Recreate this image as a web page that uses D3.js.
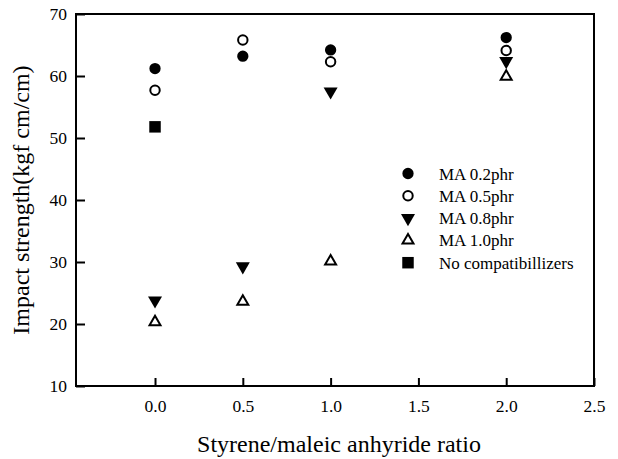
<!DOCTYPE html>
<html>
<head>
<meta charset="utf-8">
<script src="https://cdn.jsdelivr.net/npm/d3@7"></script>
<style>
  body { margin: 0; background: #fff; }
  text { font-family: "Liberation Serif", "Times New Roman", serif; fill: #000; }
</style>
</head>
<body>
<div id="chart"></div>
<script>
// data
const ratios = [0.0, 0.5, 1.0, 2.0];
const ma02 = [61.2, 63.2, 64.2, 66.2];
const ma05 = [57.7, 65.8, 62.3, 64.1];
const ma08 = [23.8, 29.3, 57.5, 62.4];
const ma10 = [20.3, 23.6, 30.1, 59.9];
const noCompatRatio = [0.0];
const noCompat = [51.8];
const seriesNames = ["MA 0.2phr", "MA 0.5phr", "MA 0.8phr", "MA 1.0phr", "No compatibillizers"];
const xTicks = [0, 0.5, 1.0, 1.5, 2.0, 2.5];
const yTicks = [10, 20, 30, 40, 50, 60, 70];

const margin = {top: 14, right: 24, bottom: 73, left: 76},
    width = 618 - margin.left - margin.right,
    height = 459 - margin.top - margin.bottom;

const svg = d3.select("#chart")
  .append("svg")
  .attr("width", 618)
  .attr("height", 459)
  .append("g")
  .attr("transform", `translate(${margin.left},${margin.top})`);

const x = d3.scaleLinear().domain([-0.45, 2.5]).range([0, width]);
const y = d3.scaleLinear().domain([10, 70]).range([height, 0]);

// axes, ticks pointing inward
const xAxis = svg.append("g")
  .attr("transform", `translate(0,${height})`)
  .call(d3.axisBottom(x).tickValues(xTicks).tickFormat(d3.format(".1f")).tickSize(-8).tickPadding(14));
const yAxis = svg.append("g")
  .call(d3.axisLeft(y).tickValues(yTicks).tickSize(-9).tickPadding(9));

[xAxis, yAxis].forEach(a => {
  a.attr("font-family", "Liberation Serif").attr("font-size", 17);
  a.select(".domain").remove();
  a.selectAll("line").attr("stroke", "#000").attr("stroke-width", 2);
  a.selectAll("text").style("font-family", "Liberation Serif").style("font-size", "17.5px");
});

// frame
svg.append("rect")
  .attr("width", width)
  .attr("height", height)
  .attr("fill", "none")
  .attr("stroke", "#000")
  .attr("stroke-width", 2);

// axis titles
svg.append("text")
  .attr("x", width / 2 + 4)
  .attr("y", height + 66)
  .attr("text-anchor", "middle")
  .style("font-size", "24px")
  .text("Styrene/maleic anhyride ratio");

svg.append("text")
  .attr("transform", `translate(${29 - margin.left},${height / 2}) rotate(-90)`)
  .attr("text-anchor", "middle")
  .style("font-size", "24px")
  .text("Impact strength(kgf cm/cm)");

// marker styles
const styles = [
  {type: d3.symbolCircle, size: 100, fill: "#000", stroke: "none", rot: 0},
  {type: d3.symbolCircle, size: 70, fill: "#fff", stroke: "#000", rot: 0},
  {type: d3.symbolTriangle, size: 85, fill: "#000", stroke: "none", rot: 180},
  {type: d3.symbolTriangle, size: 52, fill: "#fff", stroke: "#000", rot: 0},
  {type: d3.symbolSquare, size: 132, fill: "#000", stroke: "none", rot: 0}
];

const series = [
  {xs: ratios, ys: ma02},
  {xs: ratios, ys: ma05},
  {xs: ratios, ys: ma08},
  {xs: ratios, ys: ma10},
  {xs: noCompatRatio, ys: noCompat}
];

function drawMarker(sel, st) {
  sel.attr("d", d3.symbol().type(st.type).size(st.size))
    .attr("fill", st.fill)
    .attr("stroke", st.stroke)
    .attr("stroke-width", 2);
}

series.forEach((s, i) => {
  const st = styles[i];
  svg.append("g")
    .selectAll("path")
    .data(s.ys.map((v, j) => ({x: s.xs[j], y: v})))
    .join("path")
    .attr("transform", d => `translate(${x(d.x)},${y(d.y)}) rotate(${st.rot})`)
    .call(drawMarker, st);
});

// legend
const legend = svg.append("g").attr("transform", `translate(${408 - margin.left},${173.5 - margin.top})`);
seriesNames.forEach((name, i) => {
  const row = legend.append("g").attr("transform", `translate(0,${i * 22.3})`);
  row.append("path")
    .attr("transform", `rotate(${styles[i].rot})`)
    .call(drawMarker, styles[i]);
  row.append("text")
    .attr("x", 31)
    .attr("y", 6)
    .style("font-size", "17px")
    .text(name);
});
</script>
</body>
</html>
